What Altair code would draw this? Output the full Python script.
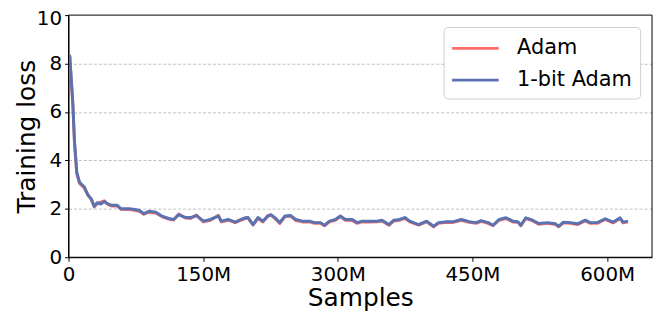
import altair as alt
import pandas as pd

samples_m = [
    0.5, 1.4, 4.8, 6.6, 9.2, 12.2, 17.7, 21.0, 25.4, 28.7,
    32.0, 36.0, 39.8, 43.0, 47.5, 54.0, 58.6, 67.4, 72.0, 78.5,
    84.0, 89.5, 97.2, 103.9, 111.6, 117.1, 122.7, 130.4, 135.9, 142.5,
    150.3, 158.0, 166.9, 170.2, 177.9, 185.6, 192.3, 196.7, 200.0, 205.5,
    211.0, 216.6, 222.1, 225.4, 230.9, 235.4, 240.9, 247.5, 253.0, 260.8,
    268.5, 274.0, 280.7, 285.1, 290.6, 297.2, 302.8, 308.3, 316.0, 321.5,
    327.0, 334.8, 343.6, 349.2, 356.9, 362.4, 369.0, 374.6, 380.1, 390.0,
    398.9, 406.6, 412.2, 421.0, 428.7, 437.6, 446.4, 454.1, 459.7, 467.4,
    472.9, 479.6, 487.3, 495.0, 500.6, 503.9, 509.4, 517.1, 523.8, 533.7,
    542.5, 545.9, 551.4, 559.1, 566.9, 575.7, 581.2, 589.0, 597.8, 606.6,
    614.4, 617.7, 623.2,
]

loss_onebit = [
    8.35, 8.30, 6.35, 4.80, 3.50, 3.10, 2.90, 2.60, 2.40, 2.10,
    2.25, 2.20, 2.30, 2.22, 2.15, 2.15, 2.00, 2.00, 1.98, 1.94,
    1.80, 1.90, 1.86, 1.70, 1.60, 1.56, 1.76, 1.64, 1.64, 1.72,
    1.49, 1.56, 1.70, 1.49, 1.56, 1.45, 1.56, 1.63, 1.64, 1.35,
    1.64, 1.49, 1.70, 1.76, 1.60, 1.43, 1.70, 1.72, 1.56, 1.49,
    1.49, 1.43, 1.43, 1.32, 1.49, 1.56, 1.70, 1.56, 1.56, 1.43,
    1.49, 1.49, 1.49, 1.53, 1.35, 1.53, 1.56, 1.64, 1.49, 1.35,
    1.49, 1.28, 1.43, 1.47, 1.47, 1.56, 1.47, 1.43, 1.51, 1.43,
    1.32, 1.56, 1.63, 1.49, 1.47, 1.32, 1.63, 1.53, 1.39, 1.43,
    1.38, 1.28, 1.45, 1.43, 1.38, 1.53, 1.43, 1.43, 1.59, 1.45,
    1.63, 1.45, 1.49,
]

loss_adam = [
    8.33, 8.28, 6.30, 4.75, 3.45, 3.05, 2.85, 2.62, 2.38, 2.08,
    2.22, 2.28, 2.33, 2.20, 2.12, 2.12, 1.98, 1.97, 1.95, 1.90,
    1.78, 1.86, 1.83, 1.68, 1.58, 1.54, 1.78, 1.62, 1.60, 1.74,
    1.46, 1.53, 1.73, 1.46, 1.53, 1.43, 1.53, 1.60, 1.62, 1.33,
    1.60, 1.46, 1.73, 1.74, 1.57, 1.40, 1.67, 1.70, 1.52, 1.46,
    1.46, 1.40, 1.40, 1.30, 1.46, 1.53, 1.68, 1.53, 1.52, 1.40,
    1.46, 1.46, 1.47, 1.50, 1.32, 1.50, 1.53, 1.61, 1.46, 1.33,
    1.46, 1.26, 1.40, 1.44, 1.44, 1.53, 1.44, 1.40, 1.48, 1.40,
    1.30, 1.53, 1.60, 1.46, 1.44, 1.30, 1.60, 1.50, 1.36, 1.40,
    1.35, 1.26, 1.42, 1.40, 1.35, 1.50, 1.40, 1.40, 1.56, 1.42,
    1.60, 1.42, 1.46,
]

series_names = ["Adam", "1-bit Adam"]
series_colors = ["#ff6b6b", "#5a72b0"]
x_ticks = [0, 150, 300, 450, 600]
y_ticks = [0, 2, 4, 6, 8, 10]

rows = []
for i, (name, vals) in enumerate(zip(series_names, [loss_adam, loss_onebit])):
    for s, v in zip(samples_m, vals):
        rows.append({"samples": s, "loss": v, "optimizer": name, "ord": i})
df = pd.DataFrame(rows)

FONT = "DejaVu Sans"
W, H = 588, 244

lines = (
    alt.Chart(df)
    .mark_line(strokeWidth=3, strokeJoin="round")
    .encode(
        x=alt.X(
            "samples:Q",
            scale=alt.Scale(domain=[0, 650], nice=False, zero=False),
            axis=alt.Axis(
                title="Samples",
                values=x_ticks,
                labelExpr="datum.value == 0 ? '0' : datum.value + 'M'",
                grid=False,
                labelFlush=False,
                tickSize=4,
                labelPadding=3,
                titleY=49,
                titleBaseline="alphabetic",
            ),
        ),
        y=alt.Y(
            "loss:Q",
            scale=alt.Scale(domain=[0, 10], nice=False),
            axis=alt.Axis(
                title="Training loss",
                values=y_ticks,
                grid=True,
                gridDash=[3, 2],
                gridColor="#b0b0b0",
                gridWidth=0.8,
                gridOpacity={
                    "condition": {"test": "datum.value == 0 || datum.value == 10", "value": 0},
                    "value": 1,
                },
                labelOffset={
                    "condition": {"test": "datum.value == 10", "value": 3},
                    "value": 0,
                },
                labelFlush=False,
                tickSize=4,
                labelPadding=3,
                titleX=-42,
                titleY=122,
                titleAngle=270,
                titleBaseline="middle",
                titleAlign="center",
            ),
        ),
        color=alt.Color(
            "optimizer:N",
            scale=alt.Scale(domain=series_names, range=series_colors),
            legend=alt.Legend(
                title=None,
                orient="none",
                legendX=378,
                legendY=12,
                symbolType="M-1.08,0H2.83",
                symbolSize=576,
                symbolStrokeWidth=3,
                symbolFillColor="transparent",
                labelFontSize=21,
                labelFont=FONT,
                labelColor="black",
                labelOffset=39,
                rowPadding=8,
                padding=8,
                fillColor="white",
                strokeColor="#d0d0d0",
                cornerRadius=4,
            ),
        ),
        order=alt.Order("ord:Q"),
    )
)

frame = (
    alt.Chart(pd.DataFrame({"frame": [0]}))
    .mark_rect(fill=None, stroke="black", strokeWidth=1)
    .encode(
        x=alt.value(0),
        x2=alt.value(W),
        y=alt.value(0),
        y2=alt.value(H),
    )
)

chart = (
    alt.layer(lines, frame)
    .properties(
        width=W,
        height=H,
        autosize=alt.AutoSizeParams(type="none"),
        padding={"left": 61, "top": 6, "right": 4, "bottom": 55},
    )
    .configure_view(strokeWidth=0)
    .configure_axis(
        labelFont=FONT,
        titleFont=FONT,
        labelFontSize=20,
        titleFontSize=25,
        titleFontWeight="normal",
        labelColor="black",
        titleColor="black",
        domainColor="black",
        tickColor="black",
    )
)

chart.save("out.html", embed_options={"renderer": "svg", "actions": False})
